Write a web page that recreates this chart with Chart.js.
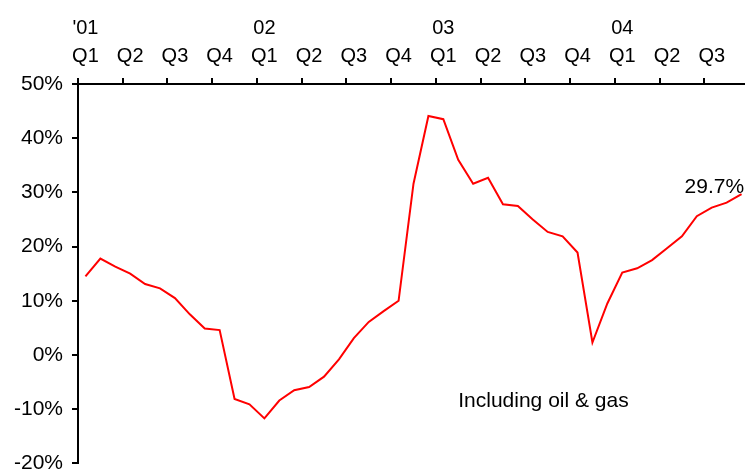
<!DOCTYPE html>
<html>
<head>
<meta charset="utf-8">
<script src="https://cdn.jsdelivr.net/npm/chart.js@4"></script>
<style>
    html, body { margin: 0; padding: 0; overflow: hidden; background: #fff; }
    #wrap { position: absolute; left: 0; top: 0; width: 752px; height: 485px; }
</style>
</head>
<body>
<div id="wrap"><canvas id="grafico" width="752" height="485"></canvas></div>
<script>
// monthly data, Jan 2001 - Sep 2004
const meses = [
    "Jan 01", "Feb 01", "Mar 01", "Apr 01", "May 01", "Jun 01", "Jul 01", "Aug 01", "Sep 01", "Oct 01", "Nov 01", "Dec 01",
    "Jan 02", "Feb 02", "Mar 02", "Apr 02", "May 02", "Jun 02", "Jul 02", "Aug 02", "Sep 02", "Oct 02", "Nov 02", "Dec 02",
    "Jan 03", "Feb 03", "Mar 03", "Apr 03", "May 03", "Jun 03", "Jul 03", "Aug 03", "Sep 03", "Oct 03", "Nov 03", "Dec 03",
    "Jan 04", "Feb 04", "Mar 04", "Apr 04", "May 04", "Jun 04", "Jul 04", "Aug 04", "Sep 04"
];

const crescimento = [
    14.5, 17.8, 16.3, 15.0, 13.1, 12.3, 10.5, 7.5, 4.9, 4.6, -8.1, -9.1,
    -11.7, -8.4, -6.5, -5.9, -4.0, -0.8, 3.1, 6.1, 8.1, 10.0, 31.6, 44.1,
    43.5, 36.0, 31.6, 32.7, 27.8, 27.5, 25.0, 22.7, 21.9, 18.9, 2.3, 9.5,
    15.2, 16.0, 17.5, 19.7, 21.9, 25.6, 27.2, 28.1, 29.7
];

const trimestres = ["Q1", "Q2", "Q3", "Q4"];
const anos = ["'01", "02", "03", "04"];
const rotuloFinal = "29.7%";
const nota = "Including oil & gas";

const fonte = '"Liberation Sans", Arial, sans-serif';

const anotacoes = {
    id: "anotacoes",
    afterDatasetsDraw(chart) {
        const { ctx, scales: { x, y } } = chart;
        const ult = crescimento.length - 1;
        ctx.save();
        ctx.fillStyle = "#000";
        ctx.font = "21px " + fonte;
        ctx.textBaseline = "middle";
        ctx.textAlign = "left";
        ctx.fillText(rotuloFinal, x.getPixelForValue(ult) - 57, y.getPixelForValue(crescimento[ult]) - 7);
        ctx.fillText(nota, x.getPixelForValue(25), y.getPixelForValue(-8.5));
        ctx.restore();
    }
};

new Chart(document.getElementById("grafico"), {
    type: "line",
    data: {
        labels: meses,
        datasets: [{
            data: crescimento,
            borderColor: "#ff0000",
            borderWidth: 2,
            pointRadius: 0,
            tension: 0
        }]
    },
    options: {
        responsive: false,
        animation: false,
        layout: { padding: { left: 0, right: 3, top: 0, bottom: 0 } },
        plugins: {
            legend: { display: false },
            tooltip: { enabled: false }
        },
        scales: {
            x: {
                position: "top",
                offset: true,
                grid: {
                    offset: true,
                    drawOnChartArea: false,
                    tickLength: 6,
                    lineWidth: 2,
                    color: ctx => (ctx.index === undefined || ctx.index % 3 === 0) ? "#000" : "rgba(0,0,0,0)"
                },
                border: { color: "#000", width: 2 },
                ticks: {
                    autoSkip: false,
                    maxRotation: 0,
                    padding: 8,
                    color: "#000",
                    font: { family: fonte, size: 20, lineHeight: 1.4 },
                    callback: (v, i) => {
                        if (i % 3 !== 0) return "";
                        const ano = i % 12 === 0 ? anos[i / 12] : "";
                        return [ano, trimestres[(i / 3) % 4]];
                    }
                },
                afterFit: s => { s.height = 84; }
            },
            y: {
                min: -20,
                max: 50,
                grid: {
                    drawOnChartArea: false,
                    tickLength: 6,
                    lineWidth: 2,
                    color: "#000"
                },
                border: { color: "#000", width: 2 },
                ticks: {
                    stepSize: 10,
                    padding: 9,
                    color: "#000",
                    font: { family: fonte, size: 21 },
                    callback: v => v + "%"
                },
                afterFit: s => { s.width = 78; }
            }
        }
    },
    plugins: [anotacoes]
});
</script>
</body>
</html>
